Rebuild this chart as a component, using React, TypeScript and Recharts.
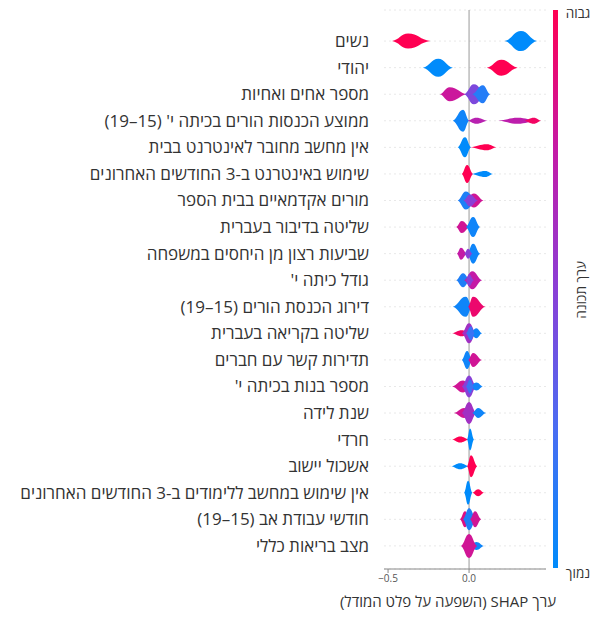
import React from "react";
import {
  CartesianGrid,
  ReferenceLine,
  Scatter,
  ScatterChart,
  XAxis,
  YAxis,
} from "recharts";

// feature names, top (most important) to bottom
const features = [
  "נשים",
  "יהודי",
  "מספר אחים ואחיות",
  "ממוצע הכנסות הורים בכיתה י' (15–19)",
  "אין מחשב מחובר לאינטרנט בבית",
  "שימוש באינטרנט ב-3 החודשים האחרונים",
  "מורים אקדמאיים בבית הספר",
  "שליטה בדיבור בעברית",
  "שביעות רצון מן היחסים במשפחה",
  "גודל כיתה י'",
  "דירוג הכנסת הורים (15–19)",
  "שליטה בקריאה בעברית",
  "תדירות קשר עם חברים",
  "מספר בנות בכיתה י'",
  "שנת לידה",
  "חרדי",
  "אשכול יישוב",
  "אין שימוש במחשב ללימודים ב-3 החודשים האחרונים",
  "חודשי עבודת אב (15–19)",
  "מצב בריאות כללי",
];

// per feature: clusters of SHAP values
// [low SHAP, peak SHAP, high SHAP, density, feature value 0..1]
const clusters: number[][][] = [
  [[-0.475, -0.376, -0.24, 7.5, 1], [0.22, 0.32, 0.42, 10, 0]],
  [[-0.285, -0.19, -0.1, 9, 0], [0.11, 0.2, 0.3, 8, 1]],
  [[-0.18, -0.12, -0.012, 7, 0.78], [-0.03, 0.03, 0.105, 10, 0.45], [0.02, 0.085, 0.13, 9, 0.12]],
  [[-0.1, -0.037, 0.0, 11, 0.05], [-0.01, 0.045, 0.115, 3, 0.7], [0.18, 0.3, 0.42, 3, 0.72], [0.34, 0.4, 0.445, 3, 0.95]],
  [[-0.07, -0.025, 0.012, 10, 0], [0.006, 0.11, 0.17, 3, 1]],
  [[-0.045, -0.012, 0.025, 9, 1], [0.012, 0.1, 0.148, 3, 0]],
  [[-0.07, -0.02, 0.045, 9, 0.1], [-0.025, 0.03, 0.09, 7, 0.8], [-0.035, 0.006, 0.055, 6, 0.5]],
  [[-0.08, -0.045, 0.006, 6, 0.8], [-0.02, 0.025, 0.068, 10, 0.05]],
  [[-0.075, -0.05, -0.012, 6, 0.75], [-0.012, 0.025, 0.068, 10, 0.05], [-0.03, -0.006, 0.02, 5, 0.5]],
  [[-0.08, -0.037, 0.006, 7, 0.1], [-0.03, 0.02, 0.08, 9, 0.75], [-0.02, 0.0, 0.03, 6, 0.5]],
  [[-0.1, -0.02, 0.02, 10, 0.05], [-0.006, 0.025, 0.1, 10, 0.92]],
  [[-0.105, -0.045, 0.006, 3, 0.95], [-0.045, 0.0, 0.045, 10, 0.6], [0.006, 0.045, 0.08, 5, 0.05], [-0.02, 0.012, 0.035, 7, 0.2]],
  [[-0.045, -0.012, 0.02, 9, 0.05], [-0.006, 0.025, 0.08, 7, 0.8]],
  [[-0.105, -0.037, 0.006, 6, 0.8], [-0.045, 0.0, 0.045, 11, 0.5], [0.006, 0.045, 0.086, 4, 0.05], [-0.02, 0.006, 0.03, 7, 0.2]],
  [[-0.093, -0.03, 0.006, 5, 0.8], [-0.045, 0.0, 0.045, 11, 0.6], [0.02, 0.056, 0.105, 5, 0.05]],
  [[-0.105, -0.055, 0.0, 3, 1], [-0.012, 0.006, 0.03, 11, 0]],
  [[-0.11, -0.055, 0.0, 3, 0], [-0.012, 0.012, 0.05, 11, 1]],
  [[-0.03, -0.006, 0.02, 12, 0], [0.02, 0.056, 0.093, 3.5, 1]],
  [[-0.056, -0.025, 0.006, 8, 0.85], [-0.037, 0.0, 0.045, 11, 0.1], [0.006, 0.037, 0.075, 8, 0.8]],
  [[0.006, 0.045, 0.093, 4, 0.05], [-0.05, 0.0, 0.05, 12, 0.8]],
];

const xTicks = [-0.5, 0];
const xLabel = "ערך SHAP (השפעה על פלט המודל)";
const colorLabel = "ערך תכונה";
const highLabel = "גבוה";
const lowLabel = "נמוך";

const W = 598;
const H = 617;
const X_MIN = -0.525;
const X_MAX = 0.475;
const LEFT = 384;
const RIGHT = 52;
const TOP = 10;
const BOTTOM = 18;
const PX_PER_UNIT = (W - LEFT - RIGHT) / (X_MAX - X_MIN);
const FONT = "'Open Sans', 'Liberation Sans', sans-serif";

const data = clusters.flatMap((row, i) =>
  row.map(([lo, peak, hi, dens, val]) => ({ row: i + 1, x: peak, lo, hi, dens, val }))
);

// shap red_blue colormap, low -> high
const stops: [number, number[]][] = [
  [0, [0, 139, 251]],
  [0.25, [74, 109, 242]],
  [0.5, [138, 63, 214]],
  [0.75, [196, 26, 166]],
  [1, [255, 0, 82]],
];

function colorAt(t: number) {
  for (let i = 1; i < stops.length; i++) {
    const [t1, c1] = stops[i];
    const [t0, c0] = stops[i - 1];
    if (t <= t1) {
      const f = (t - t0) / (t1 - t0);
      const c = c0.map((v, k) => Math.round(v + (c1[k] - v) * f));
      return `rgb(${c[0]},${c[1]},${c[2]})`;
    }
  }
  return "rgb(255,0,82)";
}

const Blob = (props: any) => {
  const { cx, cy, payload } = props;
  if (cx == null || cy == null) return null;
  const L = cx - (payload.x - payload.lo) * PX_PER_UNIT;
  const R = cx + (payload.hi - payload.x) * PX_PER_UNIT;
  const h = payload.dens;
  const a = cx - L;
  const b = R - cx;
  const d = [
    `M${L},${cy}`,
    `C${L + a * 0.45},${cy - h * 0.15} ${cx - a * 0.45},${cy - h} ${cx},${cy - h}`,
    `C${cx + b * 0.45},${cy - h} ${R - b * 0.45},${cy - h * 0.15} ${R},${cy}`,
    `C${R - b * 0.45},${cy + h * 0.15} ${cx + b * 0.45},${cy + h} ${cx},${cy + h}`,
    `C${cx - a * 0.45},${cy + h} ${L + a * 0.45},${cy + h * 0.15} ${L},${cy}`,
    "Z",
  ].join(" ");
  return <path d={d} fill={colorAt(payload.val)} />;
};

const FeatureTick = (props: any) => {
  const { x, y, payload } = props;
  return (
    <text
      x={x - 7}
      y={y}
      dy={6}
      direction="rtl"
      textAnchor="start"
      fontSize={17}
      fontFamily={FONT}
      fill="#333"
    >
      {features[payload.value - 1]}
    </text>
  );
};

export default function App() {
  return (
    <div style={{ position: "absolute", left: 0, top: 0, width: W, height: H, background: "#fff" }}>
      <ScatterChart
        width={W}
        height={H}
        margin={{ top: TOP, right: RIGHT, bottom: BOTTOM, left: 0 }}
      >
        <CartesianGrid
          vertical={false}
          stroke="#e8e8e8"
          strokeDasharray="2 3"
        />
        <XAxis
          type="number"
          dataKey="x"
          domain={[X_MIN, X_MAX]}
          ticks={xTicks}
          tickFormatter={(v: number) => (v < 0 ? "−" : "") + Math.abs(v).toFixed(1)}
          tick={{ fontSize: 10, fill: "#555", fontFamily: FONT }}
          stroke="#888"
          tickSize={4}
          height={30}
          allowDataOverflow
        />
        <YAxis
          type="number"
          dataKey="row"
          domain={[-0.17, 20.87]}
          reversed
          ticks={features.map((_, i) => i + 1)}
          interval={0}
          width={LEFT}
          axisLine={false}
          tickLine={false}
          tick={<FeatureTick />}
          allowDataOverflow
        />
        <ReferenceLine x={0} stroke="#999" strokeWidth={1} />
        <Scatter data={data} shape={<Blob />} isAnimationActive={false} />
      </ScatterChart>
      <svg
        width={W}
        height={H}
        style={{ position: "absolute", left: 0, top: 0, pointerEvents: "none" }}
        fontFamily={FONT}
      >
        <defs>
          <linearGradient id="cbar" x1="0" y1="1" x2="0" y2="0">
            {stops.map(([t, c]) => (
              <stop key={t} offset={t} stopColor={`rgb(${c[0]},${c[1]},${c[2]})`} />
            ))}
          </linearGradient>
        </defs>
        <rect x={553} y={10} width={5} height={558} fill="url(#cbar)" />
        <text x={578} y={18} textAnchor="middle" fontSize={13.5} fill="#333">
          {highLabel}
        </text>
        <text x={578} y={578} textAnchor="middle" fontSize={13.5} fill="#333">
          {lowLabel}
        </text>
        <text
          x={586}
          y={290}
          textAnchor="middle"
          fontSize={13.5}
          fill="#333"
          transform="rotate(-90 586 290)"
        >
          {colorLabel}
        </text>
        <text
          x={556}
          y={607}
          direction="rtl"
          textAnchor="start"
          fontSize={15}
          fill="#333"
        >
          {xLabel}
        </text>
      </svg>
    </div>
  );
}
